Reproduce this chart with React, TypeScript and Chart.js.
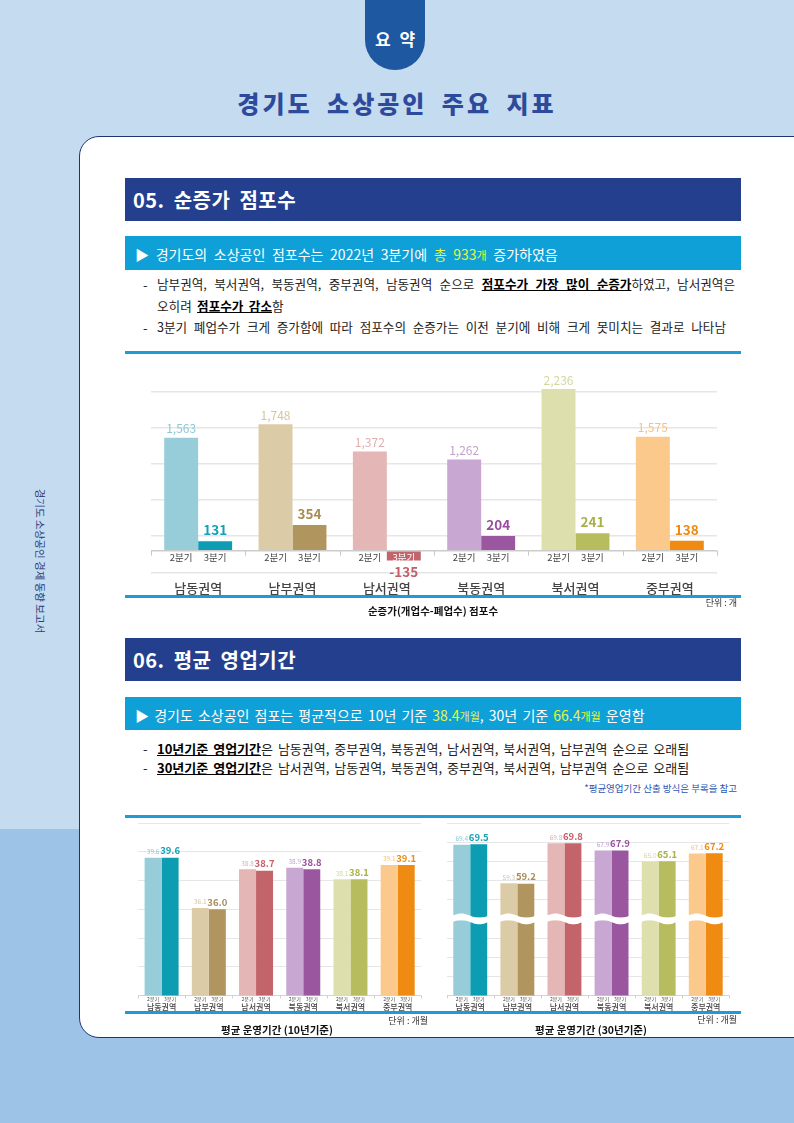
import React, { useEffect, useRef } from 'react';
import { Chart, registerables } from 'chart.js';

Chart.register(...registerables);

const FONT = "'Noto Sans CJK KR', 'Noto Sans', sans-serif";
Chart.defaults.font.family = FONT;

// ---------- data ----------
const regions = ['남동권역', '남부권역', '남서권역', '북동권역', '북서권역', '중부권역'];
const quarterLabels = ['2분기', '3분기'];

const netQ2 = [1563, 1748, 1372, 1262, 2236, 1575];
const netQ3 = [131, 354, -135, 204, 241, 138];
const netGridTicks = [-300, 0, 200, 700, 1200, 1700, 2200];

const tenQ2 = [39.6, 36.1, 38.8, 38.9, 38.1, 39.1];
const tenQ3 = [39.6, 36.0, 38.7, 38.8, 38.1, 39.1];
const tenTicks = [30, 32, 34, 36, 38, 40, 42];

const thirtyQ2 = [69.4, 59.3, 69.8, 67.9, 65.0, 67.1];
const thirtyQ3 = [69.5, 59.2, 69.8, 67.9, 65.1, 67.2];
const thirtyTicks = [30, 35, 40, 45, 50, 55, 60, 65, 70, 75];

const lightColors = ['#97cdd9', '#dccba7', '#e4b6b6', '#c8a8d2', '#dde0ac', '#fbc98b'];
const darkColors = ['#0c9db3', '#b0955f', '#c3646b', '#9b56a0', '#b7bd5e', '#ef8a12'];
const lightLabelColors = ['#8cc8d6', '#d6c49f', '#dfaeae', '#c3a2ce', '#d3d79d', '#f5c182'];
const darkLabelColors = ['#13a1b6', '#a88c55', '#c45e68', '#9a4d9f', '#a9b04a', '#ee8a12'];

type PluginCfg = {
  q2Font: string;
  q3Font: string;
  q2Off: number;
  q3Off: number;
  fmt: (v: number) => string;
  qFont: string;
  qOff: number;
  qColor: string;
  baseValue: number;
  sepLen: number;
  sepColor: string;
  breakValue?: number;
};

function makeLabelPlugin(cfg: PluginCfg) {
  return {
    id: 'customLabels',
    afterDatasetsDraw(chart: any) {
      const { ctx, chartArea, scales } = chart;
      const y = scales.y;
      const baseY = y.getPixelForValue(cfg.baseValue);
      const n = chart.data.labels.length;
      ctx.save();

      // axis break
      if (cfg.breakValue !== undefined) {
        const by = y.getPixelForValue(cfg.breakValue);
        ctx.fillStyle = '#ffffff';
        ctx.fillRect(chartArea.left, by - 1.5, chartArea.right - chartArea.left, 3);
        const m0 = chart.getDatasetMeta(0);
        const m1 = chart.getDatasetMeta(1);
        m0.data.forEach((b0: any, i: number) => {
          const b1 = m1.data[i];
          const x0 = b0.x - b0.width / 2 - 1;
          const x1 = b1.x + b1.width / 2 + 1;
          const steps = 40;
          ctx.beginPath();
          for (let s = 0; s <= steps; s++) {
            const xx = x0 + ((x1 - x0) * s) / steps;
            const yy = by - 3.2 - 2.2 * Math.sin((2 * Math.PI * s) / steps);
            if (s === 0) ctx.moveTo(xx, yy);
            else ctx.lineTo(xx, yy);
          }
          for (let s = steps; s >= 0; s--) {
            const xx = x0 + ((x1 - x0) * s) / steps;
            const yy = by + 3.2 - 2.2 * Math.sin((2 * Math.PI * s) / steps);
            ctx.lineTo(xx, yy);
          }
          ctx.closePath();
          ctx.fill();
        });
      }

      // separators on the base line
      ctx.strokeStyle = cfg.sepColor;
      ctx.lineWidth = 1;
      const cw = (chartArea.right - chartArea.left) / n;
      for (let i = 0; i <= n; i++) {
        const px = Math.round(chartArea.left + i * cw) + 0.5;
        ctx.beginPath();
        ctx.moveTo(px, baseY);
        ctx.lineTo(px, baseY + cfg.sepLen);
        ctx.stroke();
      }

      // quarter labels + values
      ctx.textAlign = 'center';
      ctx.textBaseline = 'middle';
      for (let d = 0; d < 2; d++) {
        const meta = chart.getDatasetMeta(d);
        meta.data.forEach((bar: any, i: number) => {
          const v = chart.data.datasets[d].data[i] as number;
          ctx.font = cfg.qFont;
          ctx.fillStyle = v < 0 ? '#ffffff' : cfg.qColor;
          ctx.fillText(quarterLabels[d], bar.x, baseY + cfg.qOff);

          ctx.font = d === 0 ? cfg.q2Font : cfg.q3Font;
          ctx.fillStyle = d === 0 ? lightLabelColors[i] : darkLabelColors[i];
          const off = d === 0 ? cfg.q2Off : cfg.q3Off;
          const ly = v >= 0 ? bar.y - off : bar.y + off;
          ctx.fillText(cfg.fmt(v), bar.x, ly);
        });
      }
      ctx.restore();
    },
  };
}

type ChartProps = {
  left: number;
  top: number;
  width: number;
  height: number;
  q2: number[];
  q3: number[];
  min: number;
  max: number;
  ticks: number[];
  padding: { left: number; right: number; top: number; bottom: number };
  xFontSize: number;
  xFontWeight: number;
  xPadding: number;
  gridColor: (v: number) => string;
  gridWidth: number;
  plugin: PluginCfg;
};

function BarChart(p: ChartProps) {
  const ref = useRef<HTMLCanvasElement>(null);
  useEffect(() => {
    if (!ref.current) return;
    const chart = new Chart(ref.current, {
      type: 'bar',
      data: {
        labels: regions,
        datasets: [
          {
            label: quarterLabels[0],
            data: p.q2,
            backgroundColor: lightColors,
            borderWidth: 0,
            categoryPercentage: 0.72,
            barPercentage: 1,
          },
          {
            label: quarterLabels[1],
            data: p.q3,
            backgroundColor: darkColors,
            borderWidth: 0,
            categoryPercentage: 0.72,
            barPercentage: 1,
          },
        ],
      },
      options: {
        responsive: false,
        animation: false,
        events: [],
        layout: { padding: p.padding },
        plugins: { legend: { display: false }, tooltip: { enabled: false } },
        scales: {
          x: {
            grid: { display: false, drawTicks: false },
            border: { display: false },
            ticks: {
              font: { family: FONT, size: p.xFontSize, weight: p.xFontWeight },
              color: '#444',
              padding: p.xPadding,
              maxRotation: 0,
              autoSkip: false,
            },
          },
          y: {
            min: p.min,
            max: p.max,
            afterBuildTicks: (scale: any) => {
              scale.ticks = p.ticks.map((v) => ({ value: v }));
            },
            ticks: { display: false },
            grid: {
              drawTicks: false,
              color: (c: any) => p.gridColor(c.tick ? c.tick.value : 0),
              lineWidth: p.gridWidth,
            },
            border: { display: false },
          },
        },
      } as any,
      plugins: [makeLabelPlugin(p.plugin)],
    });
    return () => chart.destroy();
  }, []);
  return (
    <canvas
      ref={ref}
      width={p.width}
      height={p.height}
      style={{ position: 'absolute', left: p.left, top: p.top, width: p.width, height: p.height }}
    />
  );
}

const abs = (s: React.CSSProperties): React.CSSProperties => ({ position: 'absolute', ...s });

function TextLine(props: { left: number; center: number; width?: number; size: number; justify?: boolean; children: React.ReactNode; style?: React.CSSProperties }) {
  const lh = Math.round(props.size * 1.6);
  return (
    <div
      style={abs({
        left: props.left,
        top: props.center - lh / 2,
        width: props.width,
        height: lh,
        lineHeight: `${lh}px`,
        fontSize: props.size,
        whiteSpace: 'nowrap',
        textAlign: props.justify ? 'justify' : 'left',
        textAlignLast: props.justify ? 'justify' : 'auto',
        ...props.style,
      } as React.CSSProperties)}
    >
      {props.children}
    </div>
  );
}

const boldU: React.CSSProperties = { fontWeight: 700, textDecoration: 'underline', color: '#000' };
const yellow: React.CSSProperties = { color: '#e6f53c' };

export default function App() {
  return (
    <div
      style={{
        position: 'absolute',
        left: 0,
        top: 0,
        width: 794,
        height: 1123,
        overflow: 'hidden',
        background: '#c4dbf0',
        fontFamily: FONT,
        color: '#222',
      }}
    >
      <div style={abs({ left: 0, top: 829, width: 794, height: 294, background: '#9dc3e6' })} />

      {/* tab */}
      <div style={abs({ left: 365, top: 0, width: 60, height: 70, background: '#1d58a0', borderRadius: '0 0 30px 30px' })} />
      <div style={abs({ left: 365, top: 27, width: 60, height: 24, lineHeight: '24px', textAlign: 'center', color: '#fff', fontWeight: 700, fontSize: 17, wordSpacing: 5 })}>
        요 약
      </div>

      {/* page title */}
      <div style={abs({ left: 0, top: 87, width: 794, height: 32, lineHeight: '32px', textAlign: 'center', color: '#2e4a9a', fontWeight: 900, fontSize: 24, letterSpacing: 3, wordSpacing: 6 })}>
        경기도 소상공인 주요 지표
      </div>

      {/* side text */}
      <div style={abs({ left: -60, top: 552, width: 200, height: 18, lineHeight: '18px', textAlign: 'center', fontSize: 10.5, color: '#2a3c78', transform: 'rotate(90deg)' })}>
        경기도 소상공인 경제 동향 보고서
      </div>

      {/* panel */}
      <div style={abs({ left: 79, top: 136, width: 760, height: 900, background: '#fff', border: '1.5px solid #1e3573', borderRadius: '20px 0 0 20px' })} />

      {/* ---------- section 05 ---------- */}
      <div style={abs({ left: 125, top: 178, width: 616, height: 43, background: '#243f8e' })} />
      <TextLine left={133} center={200} size={20} style={{ color: '#fff', fontWeight: 700, letterSpacing: 0.5, wordSpacing: 4 }}>
        05. 순증가 점포수
      </TextLine>
      <div style={abs({ left: 125, top: 236, width: 616, height: 34, background: '#0fa0d8' })} />
      <TextLine left={135} center={254} size={14} style={{ color: '#fff', wordSpacing: 3.5 }}>
        ▶ 경기도의 소상공인 점포수는 2022년 3분기에 <span style={yellow}>총 933<span style={{ fontSize: 11 }}>개</span></span> 증가하였음
      </TextLine>

      <TextLine left={143} center={284} size={13}>-</TextLine>
      <TextLine left={157} center={284} width={578} size={12.6} justify>
        남부권역, 북서권역, 북동권역, 중부권역, 남동권역 순으로 <span style={boldU}>점포수가 가장 많이 순증가</span>하였고, 남서권역은
      </TextLine>
      <TextLine left={157} center={306} size={12.6} style={{ wordSpacing: 2.5 }}>
        오히려 <span style={boldU}>점포수가 감소</span>함
      </TextLine>
      <TextLine left={143} center={327} size={13}>-</TextLine>
      <TextLine left={157} center={327} width={569} size={12.6} justify>
        3분기 폐업수가 크게 증가함에 따라 점포수의 순증가는 이전 분기에 비해 크게 못미치는 결과로 나타남
      </TextLine>
      <div style={abs({ left: 125, top: 351, width: 616, height: 3, background: '#1e9bd7' })} />

      <BarChart
        left={123}
        top={370}
        width={618}
        height={240}
        q2={netQ2}
        q3={netQ3}
        min={-300}
        max={2250}
        ticks={netGridTicks}
        padding={{ left: 28, right: 24, top: 18, bottom: 6 }}
        xFontSize={13}
        xFontWeight={500}
        xPadding={8}
        gridColor={(v) => (v === 0 ? '#cccccc' : '#e6e6e6')}
        gridWidth={1.6}
        plugin={{
          q2Font: `12px ${FONT}`,
          q3Font: `bold 13.5px ${FONT}`,
          q2Off: 9,
          q3Off: 11,
          fmt: (v) => v.toLocaleString('en-US'),
          qFont: `9.5px ${FONT}`,
          qOff: 7,
          qColor: '#444',
          baseValue: 0,
          sepLen: 5,
          sepColor: '#c8c8c8',
        }}
      />
      <div style={abs({ left: 125, top: 595, width: 616, height: 3, background: '#1e9bd7' })} />
      <TextLine left={600} center={603} width={137} size={9} style={{ textAlign: 'right', color: '#333' }}>
        단위 : 개
      </TextLine>
      <TextLine left={283} center={610} width={300} size={10.5} style={{ textAlign: 'center', fontWeight: 700, color: '#111' }}>
        순증가(개업수-폐업수) 점포수
      </TextLine>

      {/* ---------- section 06 ---------- */}
      <div style={abs({ left: 125, top: 638, width: 616, height: 43, background: '#243f8e' })} />
      <TextLine left={133} center={660} size={20} style={{ color: '#fff', fontWeight: 700, letterSpacing: 0.5, wordSpacing: 4 }}>
        06. 평균 영업기간
      </TextLine>
      <div style={abs({ left: 125, top: 697, width: 616, height: 33, background: '#0fa0d8' })} />
      <TextLine left={135} center={714.5} size={14} style={{ color: '#fff', wordSpacing: 2 }}>
        ▶ 경기도 소상공인 점포는 평균적으로 10년 기준 <span style={yellow}>38.4<span style={{ fontSize: 11 }}>개월</span></span>, 30년 기준{' '}
        <span style={yellow}>66.4<span style={{ fontSize: 11 }}>개월</span></span> 운영함
      </TextLine>
      <TextLine left={143} center={748} size={13}>-</TextLine>
      <TextLine left={157} center={748} size={13} style={{ wordSpacing: 2 }}>
        <span style={boldU}>10년기준 영업기간</span>은 남동권역, 중부권역, 북동권역, 남서권역, 북서권역, 남부권역 순으로 오래됨
      </TextLine>
      <TextLine left={143} center={767.5} size={13}>-</TextLine>
      <TextLine left={157} center={767.5} size={13} style={{ wordSpacing: 2 }}>
        <span style={boldU}>30년기준 영업기간</span>은 남서권역, 남동권역, 북동권역, 중부권역, 북서권역, 남부권역 순으로 오래됨
      </TextLine>
      <TextLine left={437} center={788} width={300} size={9.5} style={{ textAlign: 'right', color: '#2d56b0' }}>
        *평균영업기간 산출 방식은 부록을 참고
      </TextLine>

      <BarChart
        left={123}
        top={815}
        width={317}
        height={205}
        q2={tenQ2}
        q3={tenQ3}
        min={30}
        max={42}
        ticks={tenTicks}
        padding={{ left: 15, right: 18.7, top: 8.3, bottom: 1 }}
        xFontSize={8}
        xFontWeight={500}
        xPadding={7}
        gridColor={(v) => (v === 30 ? '#d4d4d4' : '#e6e6e6')}
        gridWidth={1}
        plugin={{
          q2Font: `6.5px ${FONT}`,
          q3Font: `bold 9.5px ${FONT}`,
          q2Off: 6,
          q3Off: 7,
          fmt: (v) => v.toFixed(1),
          qFont: `5px ${FONT}`,
          qOff: 4,
          qColor: '#444',
          baseValue: 30,
          sepLen: 3,
          sepColor: '#d0d0d0',
        }}
      />
      <BarChart
        left={440}
        top={815}
        width={301}
        height={205}
        q2={thirtyQ2}
        q3={thirtyQ3}
        min={30}
        max={75}
        ticks={thirtyTicks}
        padding={{ left: 6.7, right: 11.7, top: 8.3, bottom: 1 }}
        xFontSize={8}
        xFontWeight={500}
        xPadding={7}
        gridColor={(v) => (v === 30 ? '#d4d4d4' : '#e6e6e6')}
        gridWidth={1}
        plugin={{
          q2Font: `6.5px ${FONT}`,
          q3Font: `bold 9.5px ${FONT}`,
          q2Off: 6,
          q3Off: 7,
          fmt: (v) => v.toFixed(1),
          qFont: `5px ${FONT}`,
          qOff: 4,
          qColor: '#444',
          baseValue: 30,
          sepLen: 3,
          sepColor: '#d0d0d0',
          breakValue: 50,
        }}
      />
      <div style={abs({ left: 125, top: 815, width: 616, height: 3, background: '#1e9bd7' })} />
      <div style={abs({ left: 125, top: 1011, width: 616, height: 3, background: '#1e9bd7' })} />
      <TextLine left={228} center={1020.5} width={200} size={9} style={{ textAlign: 'right', color: '#333' }}>
        단위 : 개월
      </TextLine>
      <TextLine left={537} center={1020} width={200} size={9} style={{ textAlign: 'right', color: '#333' }}>
        단위 : 개월
      </TextLine>
      <TextLine left={177} center={1029.5} width={200} size={10.5} style={{ textAlign: 'center', fontWeight: 700, color: '#111' }}>
        평균 운영기간 (10년기준)
      </TextLine>
      <TextLine left={491} center={1029.5} width={200} size={10.5} style={{ textAlign: 'center', fontWeight: 700, color: '#111' }}>
        평균 운영기간 (30년기준)
      </TextLine>
    </div>
  );
}
